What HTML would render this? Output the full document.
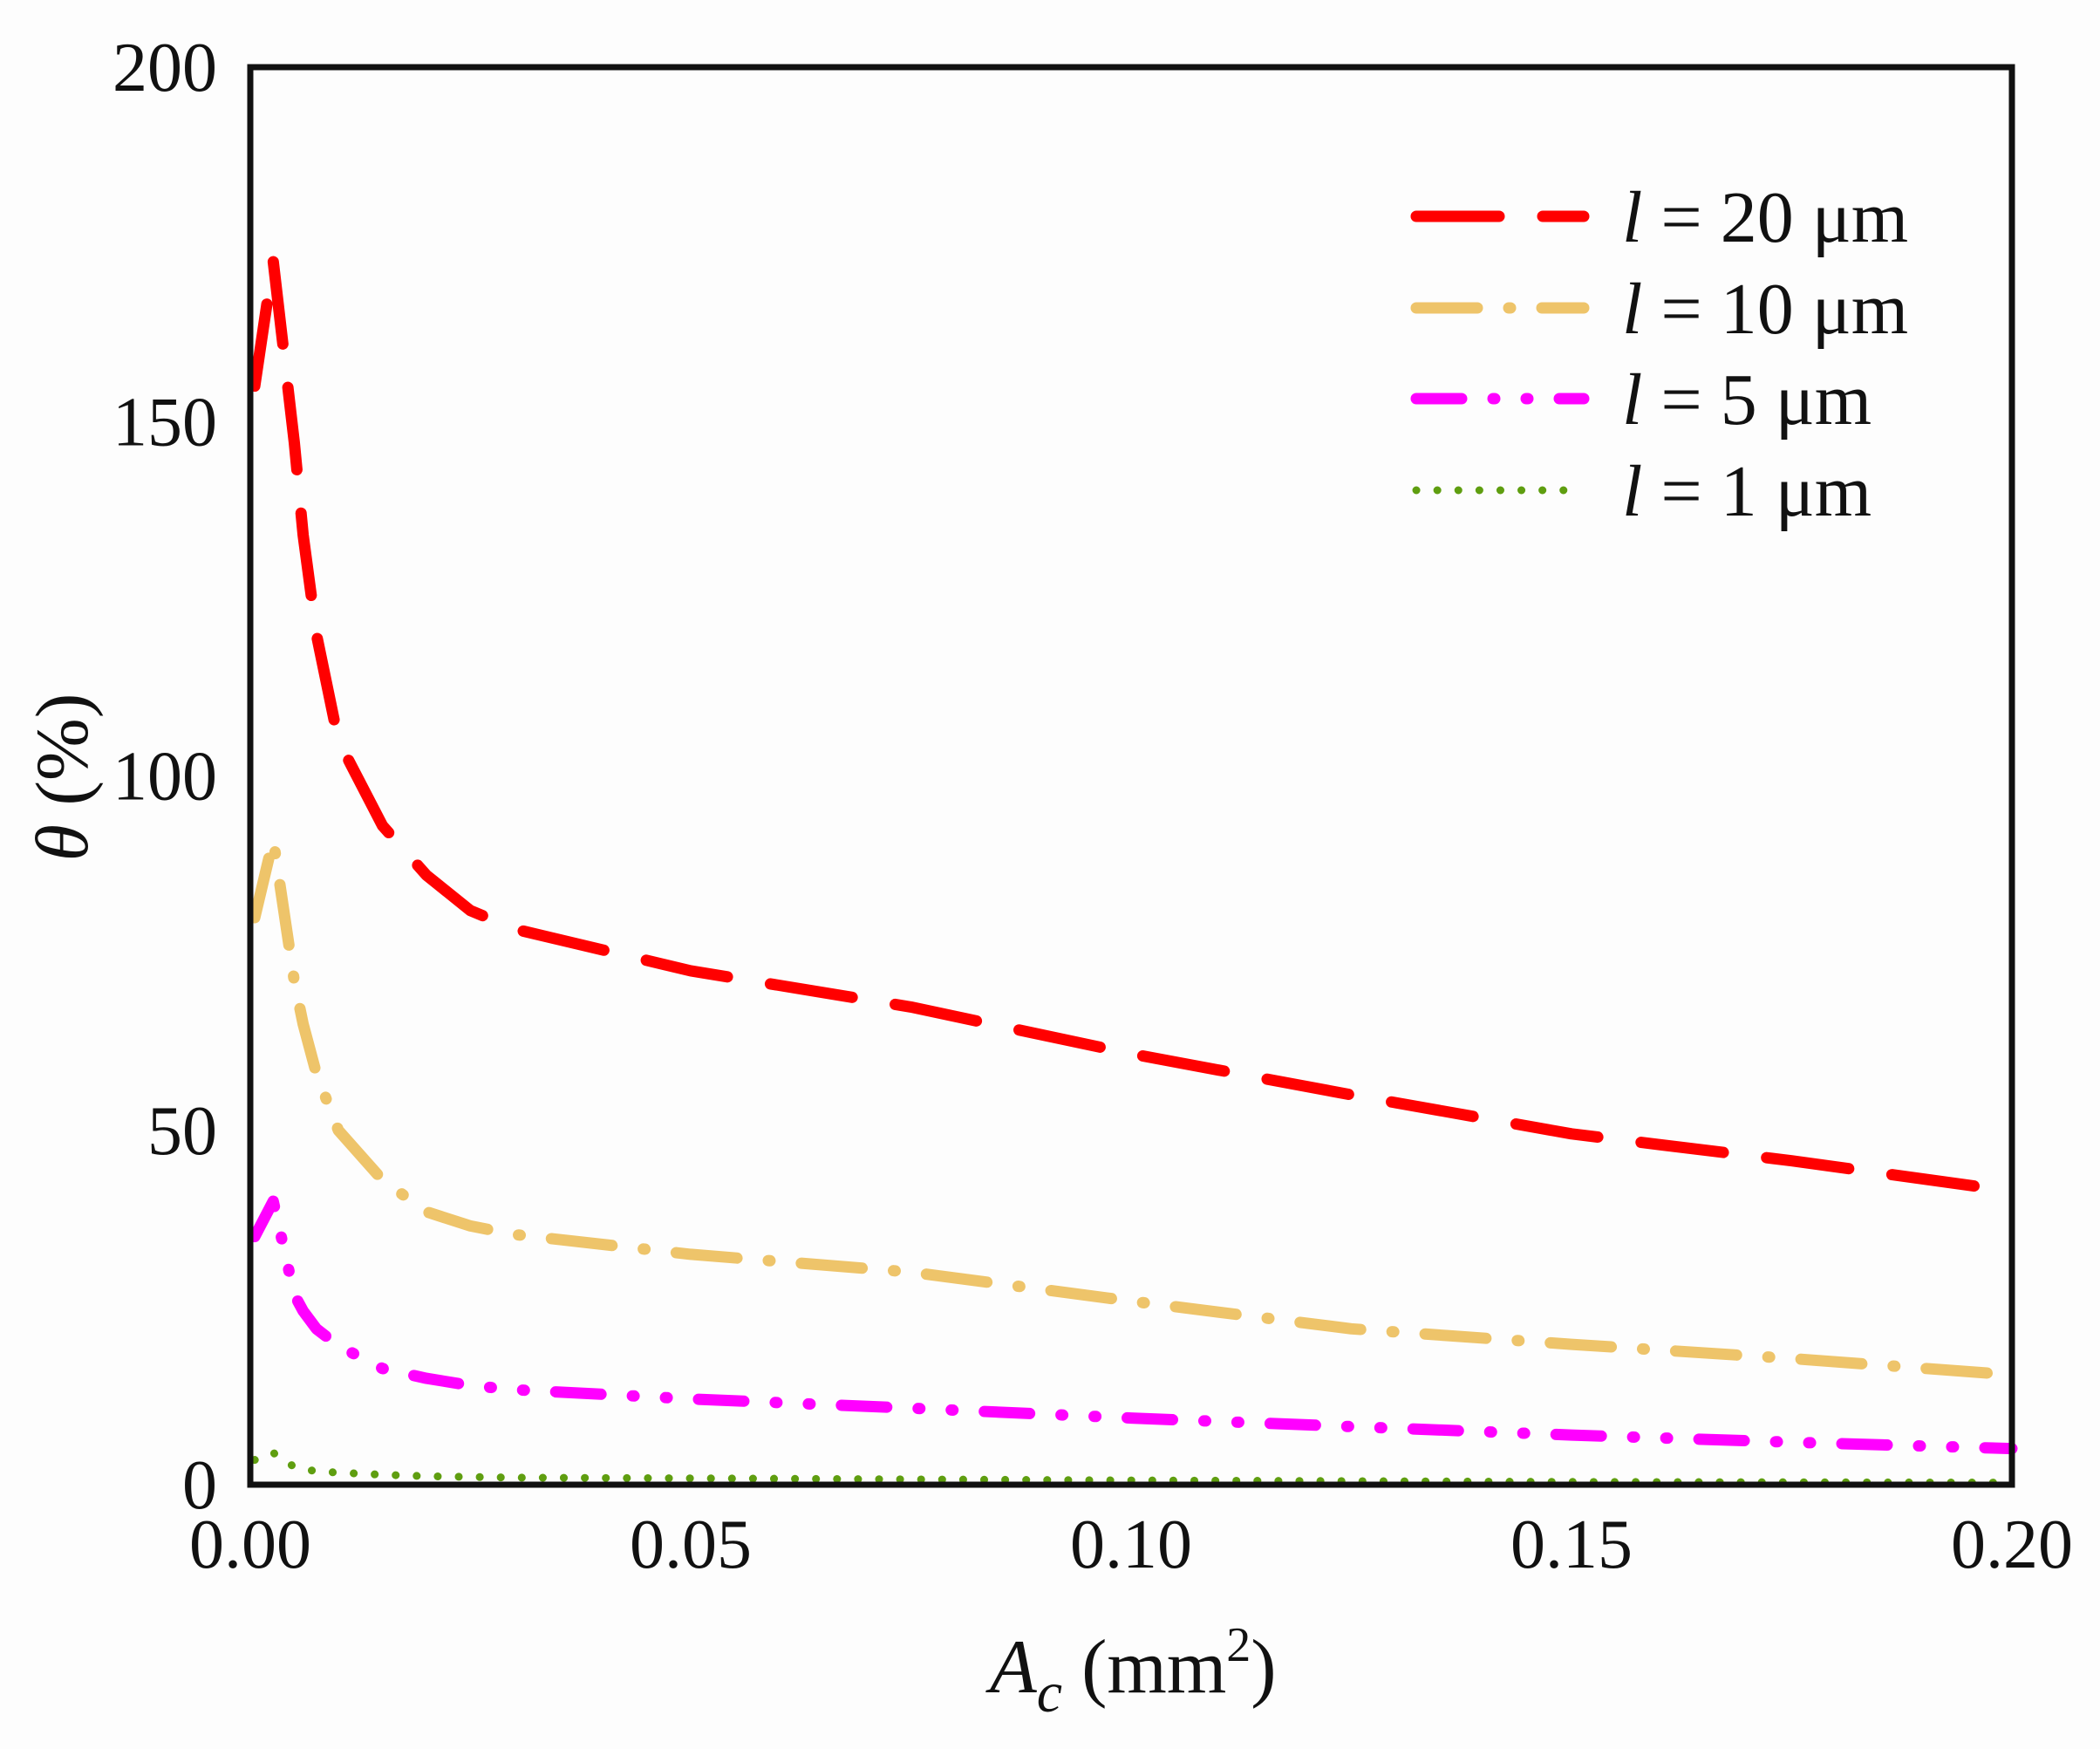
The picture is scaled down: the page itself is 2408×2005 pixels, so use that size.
<!DOCTYPE html>
<html><head><meta charset="utf-8"><style>
html,body{margin:0;padding:0;background:#fdfdfd;}
svg{display:block;font-family:"Liberation Serif",serif;}
</style></head><body>
<svg width="2408" height="2005" viewBox="0 0 2408 2005">
<g id="series"></g>
<rect x="287" y="77" width="2020" height="1625" fill="none" stroke="#111" stroke-width="7"/>
<g id="ticks" font-size="80" fill="#111"></g>
<text x="-891" y="100" transform="rotate(-90)" text-anchor="middle" font-size="86" fill="#111"><tspan font-style="italic">θ</tspan> (%)</text>
<text x="1135" y="1940" font-size="88" fill="#111"><tspan font-style="italic">A</tspan><tspan font-style="italic" font-size="66" dy="22">c</tspan><tspan dy="-22"> (mm</tspan><tspan font-size="56" dy="-36">2</tspan><tspan dy="36">)</tspan></text>
<g id="legend" font-size="84" fill="#111"></g>
</svg>
<script>
const xTicks=[0,0.05,0.10,0.15,0.20];
const xTickLabels=["0.00","0.05","0.10","0.15","0.20"];
const yTicks=[0,50,100,150,200];
const yTickLabels=["0","50","100","150","200"];
const seriesNames=["l = 20 μm","l = 10 μm","l = 5 μm","l = 1 μm"];
const seriesLabels=["20","10","5","1"];
const xVals=[0.0005,0.0026,0.005,0.006,0.0075,0.01,0.015,0.02,0.025,0.03,0.05,0.075,0.1,0.125,0.15,0.175,0.2];
const red=[155,172.6,147,134,120,105,93,86,81,78.4,72.5,67.4,60.8,55,49.5,45.7,41.4];
const orange=[80,91,71,65,58,50,43,38.5,36.5,35.3,32.5,30,25.9,22,19.8,17.8,15.5];
const magenta=[35,40,26.8,24.5,22,19.6,16.4,15,14,13.4,12.1,10.8,9.4,8.2,7,6,5.1];
const green=[3.5,4.5,2.5,2.2,1.9,1.7,1.4,1.2,1.1,1.0,0.9,0.75,0.6,0.5,0.4,0.35,0.3];
const allSeries=[red,orange,magenta,green];
const colors=["#ff0000","#eec46a","#ff00ff","#5f9e10"];
const dashes=["95 50","70 36 2 36","52 36 2 36 2 36","0.1 24"];
const widths=[13,13,13,9];
const NS="http://www.w3.org/2000/svg";
const X0=287,X1=2307,Y0=1702,Y1=77;
function sx(v){return X0+(v-0)/(0.2-0)*(X1-X0);}
function sy(v){return Y0-(v-0)/(200-0)*(Y0-Y1);}
const ser=document.getElementById('series');
allSeries.forEach((arr,i)=>{
  const p=document.createElementNS(NS,'path');
  
  
  let d='';
  xVals.forEach((x,j)=>{d+=(j?'L':'M')+sx(x).toFixed(1)+' '+sy(arr[j]).toFixed(1)+' ';});
  p.setAttribute('d',d);
  p.setAttribute('fill','none');p.setAttribute('stroke',colors[i]);
  p.setAttribute('stroke-width',widths[i]);p.setAttribute('stroke-dasharray',dashes[i]);
  p.setAttribute('stroke-linecap','round');p.setAttribute('stroke-linejoin','round');
  ser.appendChild(p);
});
const tk=document.getElementById('ticks');
xTicks.forEach((v,i)=>{
  const t=document.createElementNS(NS,'text');
  
  
  t.setAttribute('x',sx(v));t.setAttribute('y',1797);t.setAttribute('text-anchor','middle');
  t.textContent=xTickLabels[i];tk.appendChild(t);
});
yTicks.forEach((v,i)=>{
  const t=document.createElementNS(NS,'text');
  
  
  t.setAttribute('x',249);t.setAttribute('y',sy(v)+27);t.setAttribute('text-anchor','end');
  t.textContent=yTickLabels[i];tk.appendChild(t);
});
const lg=document.getElementById('legend');
const rowY=[248,353,457,562];
seriesNames.forEach((n,i)=>{
  const l=document.createElementNS(NS,'line');
  
  
  l.setAttribute('x1',1624);l.setAttribute('x2',1816);l.setAttribute('y1',rowY[i]);l.setAttribute('y2',rowY[i]);
  l.setAttribute('stroke',colors[i]);l.setAttribute('stroke-width',widths[i]);
  l.setAttribute('stroke-dasharray',dashes[i]);l.setAttribute('stroke-linecap','round');
  lg.appendChild(l);
  const t=document.createElementNS(NS,'text');
  
  
  t.setAttribute('x',1860);t.setAttribute('y',rowY[i]+29);
  const it=document.createElementNS(NS,'tspan');it.setAttribute('font-style','italic');it.textContent='l';
  t.appendChild(it);t.appendChild(document.createTextNode(' = '+seriesLabels[i]+' μm'));
  lg.appendChild(t);
});
</script>
</body></html>
